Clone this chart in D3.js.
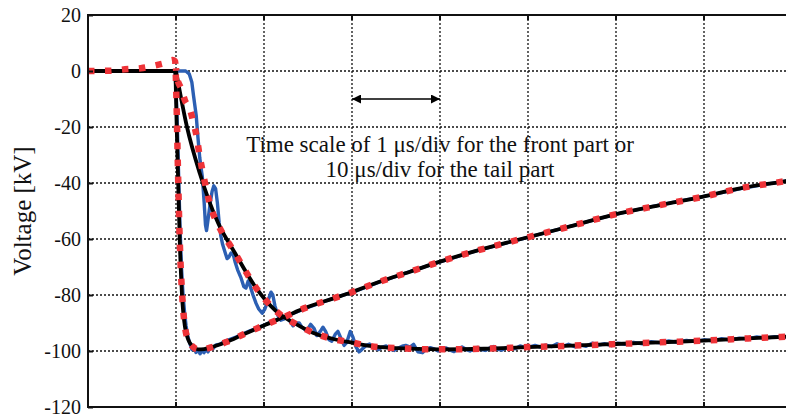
<!DOCTYPE html>
<html>
<head>
<meta charset="utf-8">
<script src="https://cdn.jsdelivr.net/npm/d3@7"></script>
<style>
  html, body { margin: 0; padding: 0; background: #fff; }
  svg { display: block; }
  text { font-family: 'Liberation Serif', 'Times New Roman', serif; fill: #111; }
</style>
</head>
<body>
<div id="chart"></div>
<script>
// y axis ticks in kV
const yTicks = [20, 0, -20, -40, -60, -80, -100, -120];
// vertical grid positions, front time scale (1 us/div)
const divTicks = [0, 1, 2, 3, 4, 5, 6];

// front part, time in us (1 us/div)
const measuredFront = [
  [0, 0], [0.11, 0], [0.15, -1], [0.18, -4], [0.2, -9], [0.23, -16], [0.25, -24], [0.27, -31],
  [0.3, -38], [0.32, -47], [0.335, -55], [0.347, -57], [0.36, -54], [0.39, -47], [0.41, -43],
  [0.43, -41], [0.45, -42], [0.47, -47], [0.49, -54], [0.51, -59], [0.53, -62], [0.56, -65],
  [0.58, -67], [0.6, -66.5], [0.625, -65], [0.65, -65.5], [0.67, -68], [0.7, -71], [0.74, -74],
  [0.77, -77], [0.795, -77.5], [0.82, -75], [0.84, -76.5], [0.875, -80], [0.91, -83], [0.94, -85],
  [0.98, -86.5], [1.01, -85], [1.045, -82], [1.08, -79], [1.1, -80], [1.125, -84], [1.16, -87.5],
  [1.19, -89], [1.23, -88.5], [1.26, -88], [1.3, -89.5], [1.33, -91], [1.36, -90], [1.4, -90],
  [1.43, -91.5], [1.47, -92.5], [1.5, -92], [1.53, -90.5], [1.57, -92], [1.6, -94.5], [1.64, -93],
  [1.67, -91.5], [1.7, -93], [1.74, -96], [1.77, -96.5], [1.81, -94], [1.84, -93], [1.875, -95.5],
  [1.91, -98], [1.94, -97], [1.98, -93], [2.01, -95], [2.045, -98.5], [2.08, -100.3], [2.11, -99.5],
  [2.16, -98], [2.2, -97.5], [2.25, -98.8], [2.3, -99.5], [2.34, -98.6], [2.39, -98.2], [2.43, -99.3],
  [2.48, -99.8], [2.52, -99], [2.57, -98.3], [2.61, -98], [2.66, -98.6], [2.7, -97.6], [2.75, -100.3],
  [2.8, -100.6], [2.84, -99.4], [2.89, -98.8], [2.93, -99.2], [2.98, -100], [3.02, -99.5],
  [3.07, -98.9], [3.11, -99.6], [3.16, -100.2], [3.2, -99.4], [3.25, -98.6], [3.3, -99.5],
  [3.34, -100], [3.39, -99.1], [3.43, -98.7], [3.48, -99.6], [3.52, -99.8], [3.57, -98.8],
  [3.61, -98.4], [3.66, -99.4], [3.7, -99.7], [3.75, -98.8], [3.8, -98.5], [3.85, -99.2],
  [3.91, -98.2], [3.97, -98.8], [4.02, -98.5], [4.08, -98], [4.14, -98.6], [4.2, -97.9],
  [4.27, -98.4], [4.33, -97.4], [4.4, -98.3], [4.46, -97.6], [4.53, -98.5], [4.6, -97.8],
  [4.66, -98.3], [4.73, -97.2], [4.8, -97.9], [4.87, -97.4], [4.95, -98.1], [5.02, -97.2],
  [5.1, -97.6], [5.2, -96.9], [5.3, -97.4], [5.4, -96.7], [5.5, -97.1], [5.6, -96.4], [5.7, -96.9],
  [5.8, -96.2], [5.9, -96.6], [6.0, -96.0], [6.1, -96.4], [6.2, -95.6], [6.3, -96.1], [6.4, -95.4],
  [6.5, -95.7], [6.6, -95.0], [6.7, -95.4], [6.8, -94.9], [6.9, -95.1], [7.0, -94.7]
];
const computedFront = [
  [0, 0], [0.125, -20], [0.27, -36.5], [0.48, -54.4], [0.67, -65], [0.9, -77], [1.125, -85.4],
  [1.4, -91], [1.6, -94], [1.8, -95.8], [2.0, -97], [2.2, -98.2], [2.5, -99], [3.0, -99.4],
  [3.5, -99.2], [4.0, -98.6], [4.5, -98.1], [5.0, -97.5], [5.5, -96.9], [6.0, -96.3],
  [6.5, -95.5], [7.0, -94.8]
];
const simulatedFront = [
  [0, 1], [0.01, -2], [0.065, -6.8], [0.1, -10.4], [0.16, -13.9], [0.2, -18.7], [0.235, -23.5],
  [0.27, -30.6], [0.31, -37], [0.35, -43], [0.41, -50], [0.48, -55], [0.67, -65], [0.9, -77],
  [1.125, -85.4], [1.4, -91], [1.6, -94], [1.8, -95.8], [2.0, -97], [2.2, -98.2], [2.5, -99],
  [3.0, -99.4], [3.5, -99.2], [4.0, -98.6], [4.5, -98.1], [5.0, -97.5], [5.5, -96.9],
  [6.0, -96.3], [6.5, -95.5], [7.0, -94.8]
];

// tail part, time in us (10 us/div)
const measuredTail = [
  [-0.1, 0], [0.11, -15], [0.28, -35], [0.45, -55], [0.62, -70], [0.8, -80], [0.97, -86],
  [1.14, -91], [1.36, -95], [1.59, -97.5], [1.82, -99.5], [2.05, -98.5], [2.27, -100.5],
  [2.5, -99.6], [2.73, -101], [2.95, -99.8], [3.18, -100.6], [3.41, -99.5], [3.64, -100.3],
  [3.86, -98.8], [4.2, -99.2], [4.55, -97.8], [5.0, -97.6], [5.57, -96.5], [6.14, -95.8],
  [6.82, -95], [7.5, -94], [8.4, -92.8], [9.55, -91.4], [10.7, -89.8], [12.5, -87.6],
  [15, -84.4], [18, -81.0], [20, -79.1], [23, -75.5], [27, -71.2], [30, -68.2], [34, -64.3],
  [39, -60.2], [44, -56.1], [50, -51.1], [55, -47.8], [60, -44.8], [65, -41.5], [70, -38.9]
];
const computedTail = [
  [-10, 0], [-0.1, 0], [0.08, -20], [0.25, -40], [0.42, -60], [0.68, -80], [1.05, -92],
  [1.4, -96], [1.9, -98.4], [2.5, -99.4], [3.2, -99.3], [4.2, -98.5], [5.8, -96.7],
  [7.5, -94.3], [10.1, -90.7], [12.4, -87.7], [14.7, -84.6], [17.9, -81.2], [19.8, -79.2],
  [23.2, -75.2], [26.6, -71.7], [30.0, -68.1], [33.8, -64.5], [39.1, -60.1], [44.4, -55.8],
  [49.9, -51.2], [55.0, -47.9], [59.9, -44.9], [64.1, -41.9], [69.3, -39.3], [70, -38.9]
];
const simulatedTail = [
  [-10, 0], [-7.5, 0.1], [-5.8, 0.6], [-4.0, 1.0], [-2.2, 2.1], [-1.1, 3.0], [-0.4, 3.9],
  [-0.1, 3.5], [0.05, -10], [0.2, -32], [0.42, -60], [0.7, -80], [1.05, -92], [1.4, -96],
  [1.9, -98.4], [2.5, -99.4], [3.2, -99.3], [4.2, -98.5], [5.8, -96.7], [7.5, -94.3],
  [10.1, -90.7], [12.4, -87.7], [14.7, -84.6], [17.9, -81.2], [19.8, -79.2], [23.2, -75.2],
  [26.6, -71.7], [30.0, -68.1], [33.8, -64.5], [39.1, -60.1], [44.4, -55.8], [49.9, -51.2],
  [55.0, -47.9], [59.9, -44.9], [64.1, -41.9], [69.3, -39.3], [70, -38.9]
];

const width = 786, height = 419;
const plot = { left: 88, top: 15, right: 792, bottom: 407 };

const xFront = d3.scaleLinear().domain([-1, 7]).range([plot.left, plot.right]);
const xTail = d3.scaleLinear().domain([-10, 70]).range([plot.left, plot.right]);
const y = d3.scaleLinear().domain([-120, 20]).range([plot.bottom, plot.top]);

const svg = d3.select('#chart')
  .append('svg')
  .attr('width', width)
  .attr('height', height);

svg.append('defs').append('clipPath')
  .attr('id', 'clip')
  .append('rect')
  .attr('x', plot.left)
  .attr('y', plot.top)
  .attr('width', plot.right - plot.left)
  .attr('height', plot.bottom - plot.top);

// dotted grid
const grid = svg.append('g').attr('class', 'grid');
grid.selectAll('line.h')
  .data(yTicks.slice(1, -1))
  .enter().append('line')
  .attr('x1', plot.left).attr('x2', plot.right)
  .attr('y1', d => y(d)).attr('y2', d => y(d));
grid.selectAll('line.v')
  .data(divTicks)
  .enter().append('line')
  .attr('y1', plot.top).attr('y2', plot.bottom)
  .attr('x1', d => xFront(d)).attr('x2', d => xFront(d));
grid.selectAll('line')
  .attr('stroke', '#111')
  .attr('stroke-width', 1.3)
  .attr('stroke-dasharray', '2,2');

// curves
const data = svg.append('g').attr('clip-path', 'url(#clip)');
const lineF = d3.line().x(d => xFront(d[0])).y(d => y(d[1]));
const lineT = d3.line().x(d => xTail(d[0])).y(d => y(d[1]));
const smoothF = d3.line().curve(d3.curveMonotoneX).x(d => xFront(d[0])).y(d => y(d[1]));
const smoothT = d3.line().curve(d3.curveMonotoneX).x(d => xTail(d[0])).y(d => y(d[1]));

const blue = '#2c5fb3';
const red = '#ee3338';

data.append('path').attr('d', lineT(measuredTail))
  .attr('fill', 'none').attr('stroke', blue).attr('stroke-width', 3.4).attr('stroke-linejoin', 'round');
data.append('path').attr('d', lineF(measuredFront))
  .attr('fill', 'none').attr('stroke', blue).attr('stroke-width', 3.4).attr('stroke-linejoin', 'round');

data.append('path').attr('d', smoothT(computedTail))
  .attr('fill', 'none').attr('stroke', '#000').attr('stroke-width', 3.8);
data.append('path').attr('d', smoothF(computedFront))
  .attr('fill', 'none').attr('stroke', '#000').attr('stroke-width', 3.8);

data.append('path').attr('d', smoothT(simulatedTail))
  .attr('fill', 'none').attr('stroke', red).attr('stroke-width', 6.5)
  .attr('stroke-dasharray', '6.5,10.5');
data.append('path').attr('d', smoothF(simulatedFront))
  .attr('fill', 'none').attr('stroke', red).attr('stroke-width', 6.5)
  .attr('stroke-dasharray', '6.5,10.5').attr('stroke-dashoffset', 4);

// frame
svg.append('rect')
  .attr('x', plot.left).attr('y', plot.top)
  .attr('width', plot.right - plot.left).attr('height', plot.bottom - plot.top)
  .attr('fill', 'none').attr('stroke', '#111').attr('stroke-width', 2);

// small inward ticks on top and bottom
divTicks.forEach(d => {
  svg.append('line').attr('x1', xFront(d)).attr('x2', xFront(d))
    .attr('y1', plot.top).attr('y2', plot.top + 5).attr('stroke', '#111').attr('stroke-width', 2);
  svg.append('line').attr('x1', xFront(d)).attr('x2', xFront(d))
    .attr('y1', plot.bottom).attr('y2', plot.bottom - 5).attr('stroke', '#111').attr('stroke-width', 2);
});

// y axis
const yAxis = svg.append('g')
  .attr('transform', `translate(${plot.left},0)`)
  .call(d3.axisLeft(y).tickValues(yTicks).tickSizeInner(-5).tickSizeOuter(0).tickPadding(7)
    .tickFormat(d => d));
yAxis.select('.domain').remove();
yAxis.selectAll('line').attr('stroke', '#111').attr('stroke-width', 2);
yAxis.selectAll('text')
  .style('font-family', "'Liberation Serif', 'Times New Roman', serif")
  .style('font-size', '20px')
  .attr('fill', '#111');

svg.append('text')
  .attr('transform', `translate(31, ${(plot.top + plot.bottom) / 2}) rotate(-90)`)
  .attr('text-anchor', 'middle')
  .style('font-size', '25px')
  .text('Voltage [kV]');

// time scale annotation: arrow spanning one division
svg.append('defs').append('marker')
  .attr('id', 'head')
  .attr('viewBox', '0 0 10 10')
  .attr('refX', 10).attr('refY', 5)
  .attr('markerWidth', 12).attr('markerHeight', 9)
  .attr('markerUnits', 'userSpaceOnUse')
  .attr('orient', 'auto-start-reverse')
  .append('path').attr('d', 'M0,0L10,5L0,10Z').attr('fill', '#000');

svg.append('line')
  .attr('x1', xFront(2)).attr('x2', xFront(3))
  .attr('y1', y(-10)).attr('y2', y(-10))
  .attr('stroke', '#000').attr('stroke-width', 1.6)
  .attr('marker-start', 'url(#head)').attr('marker-end', 'url(#head)');

svg.append('text')
  .attr('x', xFront(3)).attr('y', y(-28.8))
  .attr('text-anchor', 'middle').style('font-size', '23px')
  .text('Time scale of 1 \u03bcs/div for the front part or');
svg.append('text')
  .attr('x', xFront(3)).attr('y', y(-37.7))
  .attr('text-anchor', 'middle').style('font-size', '23px')
  .text('10 \u03bcs/div for the tail part');
</script>
</body>
</html>
